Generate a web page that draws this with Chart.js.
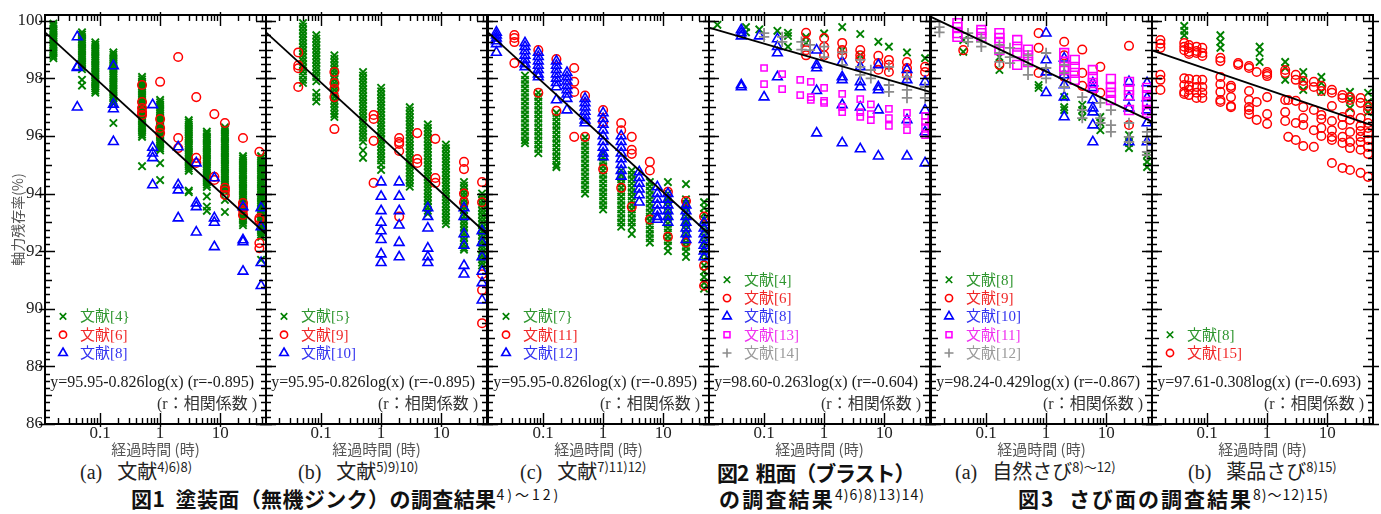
<!DOCTYPE html>
<html><head><meta charset="utf-8">
<script src="https://cdn.jsdelivr.net/npm/chart.js@4.4.1/dist/chart.umd.min.js"></script>
<style>
html,body{margin:0;padding:0;background:#fff;}
#wrap{position:relative;width:1381px;height:514px;overflow:hidden;background:#fff;}
#wrap canvas{position:absolute;top:0;}
.cap{position:absolute;white-space:pre;color:#222;font-family:"Liberation Serif","Noto Sans CJK JP",serif;font-size:20px;line-height:24px;}
.fig{font-family:"Noto Sans CJK JP",sans-serif;font-weight:700;font-size:21px;color:#111;}
.s{font-size:13px;vertical-align:7px;line-height:0;font-weight:400;font-family:"Noto Sans CJK JP",sans-serif;letter-spacing:0;}
.fig .s{font-size:14px;letter-spacing:1px;}
</style></head>
<body>
<div id="wrap">
<div class="cap" style="left:80px;top:460px">(a)   文献<span class="s">4)6)8)</span></div>
<div class="cap" style="left:298px;top:460px">(b)   文献<span class="s">5)9)10)</span></div>
<div class="cap" style="left:520px;top:460px">(c)   文献<span class="s">7)11)12)</span></div>
<div class="cap fig" style="left:131px;top:486px;letter-spacing:0.4px">図1  塗装面（無機ジンク）の調査結果<span class="s" style="letter-spacing:3px">4)～12)</span></div>
<div class="cap fig" style="left:717px;top:460px;letter-spacing:-1.1px">図2  粗面（ブラスト）</div>
<div class="cap fig" style="left:719px;top:486px;letter-spacing:2.2px">の調査結果<span class="s">4)6)8)13)14)</span></div>
<div class="cap" style="left:955px;top:460px">(a)   自然さび<span class="s">8)～12)</span></div>
<div class="cap" style="left:1188px;top:460px">(b)   薬品さび<span class="s">8)15)</span></div>
<div class="cap fig" style="left:1018px;top:486px;letter-spacing:2px">図3  さび面の調査結果<span class="s">8)～12)15)</span></div>
</div>
<script>
// ---------- axes ----------
const xTickValues = [0.1, 1, 10];
const xTickLabels = ['0.1', '1', '10'];
const yTickValues = [86, 88, 90, 92, 94, 96, 98, 100];
const yTickLabels = ['86', '88', '90', '92', '94', '96', '98', '100'];
const xMin = 0.0121, xMax = 58;
const yMin = 86, yMax = 100.2;
const xTitle = '経過時間 (時)';
const yTitle = '軸力残存率(%)';

// ---------- regression lines: y = a + b*ln(x) ----------
const fitA = [95.95, 95.95, 95.95, 98.60, 98.24, 97.61];
const fitB = [-0.826, -0.826, -0.826, -0.263, -0.429, -0.308];
const fitText = [
  'y=95.95-0.826log(x) (r=-0.895)',
  'y=95.95-0.826log(x) (r=-0.895)',
  'y=95.95-0.826log(x) (r=-0.895)',
  'y=98.60-0.263log(x) (r=-0.604)',
  'y=98.24-0.429log(x) (r=-0.867)',
  'y=97.61-0.308log(x) (r=-0.693)'
];
const rNote = '(r：相関係数 )';

// ---------- data: [time, [values...]] ----------
// Fig.1 (a)
const p1Ref4 = [
  [0.0167,[99.9,99.82,99.74,99.66,99.58,99.5,99.42,99.34,99.26,99.18,99.1,99.02,98.94,98.86,98.78,98.7]],
  [0.05,[99.6,99.52,99.44,99.36,99.28,99.2,99.12,99.04,98.96,98.88,98.8,98.72,98.64,98.56,98.48,98.4,98.32,97.95,97.75]],
  [0.0833,[99.25,99.17,99.09,99.01,98.93,98.85,98.77,98.69,98.61,98.53,98.45,98.37,98.29,98.21,98.13,98.05,97.97,97.89,97.81,97.73,97.65,97.57,97.5]],
  [0.1667,[98.9,98.82,98.74,98.66,98.58,98.5,98.42,98.34,98.26,98.18,98.1,98.02,97.94,97.86,97.78,97.7,97.62,97.54,97.46,97.38,97.3,97.22,97.14,96.45]],
  [0.5,[98.05,97.97,97.89,97.81,97.73,97.65,97.57,97.49,97.41,97.33,97.25,97.17,97.09,97.01,96.93,96.85,96.77,96.69,96.61,96.53,96.45,96.37,96.29,96.21,96.13,96.05,95.97,94.95]],
  [1,[97.25,97.17,97.09,97.01,96.93,96.85,96.77,96.69,96.61,96.53,96.45,96.37,96.29,96.21,96.13,96.05,95.97,95.89,95.81,95.73,95.65,95.57,95.5,95.06,94.47]],
  [3,[96.55,96.47,96.39,96.31,96.23,96.15,96.07,95.99,95.91,95.83,95.75,95.67,95.59,95.51,95.43,95.35,95.27,95.19,95.11,95.03,94.95,94.87,94.79,94.1,94.05]],
  [6,[96.15,96.07,95.99,95.91,95.83,95.75,95.67,95.59,95.51,95.43,95.35,95.27,95.19,95.11,95.03,94.95,94.87,94.79,94.71,94.63,94.55,94.47,94.39,94.31,94.23,93.9,93.55,93.4]],
  [12,[96.3,96.22,96.14,96.06,95.98,95.9,95.82,95.74,95.66,95.58,95.5,95.42,95.34,95.26,95.18,95.1,95.02,94.94,94.86,94.78,94.7,94.62,94.54,94.46,94.38,94.3,94.22,94.14,94.06,93.78,93.36]],
  [24,[95.3,95.22,95.14,95.06,94.98,94.9,94.82,94.74,94.66,94.58,94.5,94.42,94.34,94.26,94.18,94.1,94.02,93.94,93.86,93.78,93.7,93.62,93.54,93.46,93.38,93.3,93.22,93.14,93.06,92.98,92.9]],
  [48,[95.3,95.22,95.14,95.06,94.98,94.9,94.82,94.74,94.66,94.58,94.5,94.42,94.34,94.26,94.18,94.1,94.02,93.94,93.86,93.78,93.7,93.62,93.54,93.46,93.38,93.3,93.22,93.14,93.06,92.98,92.9,92.82,92.74,92.66,92.58,92.5,91.7]]
];
const p1Ref6 = [
  [0.5,[97.77,97.18,96.97,96.83,96.73]],
  [1,[97.88,96.59,96.28,96.1]],
  [2,[98.74,95.93,95.58]],
  [4,[97.35,95.24,95.06]],
  [8,[96.76,94.58,94.47]],
  [12,[96.45,94.2,94.1,93.95]],
  [24,[95.93,93.67,93.54,93.43,93.26]],
  [45,[95.45,93.15,93.08,92.28,92.1]]
];
const p1Ref8 = [
  [0.0417,[99.44,98.4,98.37,97.0]],
  [0.1667,[98.43,97.1,96.94,95.8]],
  [0.75,[97.08,95.6,95.4,95.24,94.3]],
  [2,[95.62,94.3,94.12,93.15]],
  [4,[95.06,93.67,93.54,92.66]],
  [8,[94.54,93.15,93.0,92.15]],
  [24,[93.54,92.39,92.32,91.3]],
  [48,[93.5,92.84,91.6,90.8]]
];
// Fig.1 (b)
const p2Ref5 = [
  [0.05,[99.92,99.8,99.68,99.56,99.44,99.32,99.2,99.08,98.96,98.84,98.72,98.6,98.48,98.36,98.24,98.1,97.95,97.84]],
  [0.0833,[99.5,99.38,99.26,99.14,99.02,98.9,98.78,98.66,98.54,98.42,98.3,98.18,98.05,97.9,97.5,97.35,97.2]],
  [0.1667,[98.8,98.68,98.56,98.44,98.32,98.2,98.08,97.96,97.84,97.72,97.6,97.48,97.36,97.24,97.12,97.0,96.88,96.76,96.66]],
  [0.5,[98.22,98.1,97.98,97.86,97.74,97.62,97.5,97.38,97.26,97.14,97.02,96.9,96.78,96.66,96.54,96.42,96.3,96.18,96.06,95.94,95.8,95.5,95.24]],
  [1,[97.67,97.55,97.43,97.31,97.19,97.07,96.95,96.83,96.71,96.59,96.47,96.35,96.23,96.11,95.99,95.87,95.75,95.63,95.51,95.39,95.27,95.15,95.0,94.82]],
  [3,[97.0,96.88,96.76,96.64,96.52,96.4,96.28,96.16,96.04,95.92,95.8,95.68,95.56,95.44,95.32,95.2,95.08,94.96,94.84,94.72,94.6,94.48,94.36,94.24]],
  [6,[96.4,96.28,96.16,96.04,95.92,95.8,95.68,95.56,95.44,95.32,95.2,95.08,94.96,94.84,94.72,94.6,94.48,94.36,94.24,94.12,94.0,93.88,93.76,93.64,93.52,93.4,93.3]],
  [12,[95.7,95.58,95.46,95.34,95.22,95.1,94.98,94.86,94.74,94.62,94.5,94.38,94.26,94.14,94.02,93.9,93.78,93.66,93.54,93.42,93.3,93.18,93.06,92.94]],
  [24,[94.4,94.28,94.16,94.04,93.92,93.8,93.68,93.56,93.44,93.32,93.2,93.08,92.96,92.84,92.72,92.6,92.48,92.36,92.24,92.12,92.05]],
  [48,[94.0,93.88,93.76,93.64,93.52,93.4,93.28,93.16,93.04,92.92,92.8,92.68,92.56,92.44,92.32,92.2,92.08,91.96,91.84,91.72,91.6,91.5]]
];
const p2Ref9 = [
  [0.0417,[98.9,98.45,98.35,97.7]],
  [0.1667,[98.22,97.84,97.63,97.35,96.24]],
  [0.75,[96.73,96.59,95.83,94.37]],
  [2,[95.93,95.79,95.72,95.48,93.2]],
  [4,[96.1,95.2,95.06]],
  [8,[95.9,94.54,94.37]],
  [24,[95.1,94.85,94.0,93.7]],
  [48,[94.4,93.7,91.2,90.65,89.5]]
];
const p2Ref10 = [
  [1,[94.4,93.9,93.4,93.0,92.7,92.4,91.9,91.6]],
  [2,[94.4,93.9,93.4,92.9,92.3,91.8]],
  [6,[93.5,93.2,92.8,92.1,91.8,91.6]],
  [24,[93.5,93.2,92.6,92.2,91.5,91.2]],
  [48,[92.7,92.3,91.8,91.3,90.9,90.3]]
];
// Fig.1 (c)
const p3Ref7 = [
  [0.05,[98.1,97.95,97.8,97.65,97.5,97.35,97.2,97.05,96.9,96.75,96.6,96.45,96.3,96.15,96.0,95.85,95.75]],
  [0.0833,[97.5,97.35,97.2,97.05,96.9,96.75,96.6,96.45,96.3,96.15,96.0,95.85,95.7,95.55,95.4]],
  [0.1667,[96.8,96.65,96.5,96.35,96.2,96.05,95.9,95.75,95.6,95.45,95.3,95.15,95.0,94.92]],
  [0.5,[95.95,95.8,95.65,95.5,95.35,95.2,95.05,94.9,94.75,94.6,94.45,94.3,94.15,94.0]],
  [1,[95.4,95.25,95.1,94.95,94.8,94.65,94.5,94.35,94.2,94.05,93.9,93.75,93.6,93.45]],
  [2,[94.8,94.65,94.5,94.35,94.2,94.05,93.9,93.75,93.6,93.45,93.3,93.15,93.0,92.85]],
  [3,[94.8,94.65,94.5,94.35,94.2,94.05,93.9,93.75,93.6,93.45,93.3,93.15,93.0,92.85,92.6]],
  [6,[94.4,94.25,94.1,93.95,93.8,93.65,93.5,93.35,93.2,93.05,92.9,92.75,92.6,92.45,92.3]],
  [12,[94.4,94.0,93.85,93.7,93.55,93.4,93.25,93.1,92.95,92.8,92.65,92.5,92.35,92.2,92.0]],
  [24,[94.33,93.8,93.65,93.5,93.35,93.2,93.05,92.9,92.75,92.6,92.45,92.3,92.15,92.0,91.8]],
  [48,[93.7,93.5,93.3,93.1,92.9,92.7,92.5,92.3,92.1,91.9,91.7,91.5,91.3,91.1,90.9,90.7]]
];
const p3Ref11 = [
  [0.0333,[99.5,99.4,99.26,98.53]],
  [0.0833,[98.98,97.5]],
  [0.1667,[98.67,96.87]],
  [0.33,[98.36,97.88,97.53,95.97]],
  [0.5,[97.4,95.97]],
  [1,[96.9,96.49,94.85]],
  [2,[96.45,96.2,94.2]],
  [3,[95.97,95.52,95.38,93.54]],
  [6,[95.1,94.8,93.1]],
  [12,[94.06,92.5]],
  [24,[93.74,92.3]],
  [48,[93.2,91.5,90.8]]
];
const p3Ref12 = [
  [0.0167,[99.6,99.5,99.4,99.3,99.2,98.9]],
  [0.05,[99.23,99.1,98.95,98.8,98.65,98.5,98.4]],
  [0.0833,[98.9,98.75,98.6,98.45,98.3,98.15,98.05]],
  [0.1667,[98.6,98.45,98.3,98.15,98.0,97.85,97.7,97.25]],
  [0.25,[98.2,98.05,97.9,97.75,97.6,97.45,97.3,96.9]],
  [0.5,[97.3,97.15,97.0,96.85,96.7,96.55,96.45]],
  [1,[96.8,96.6,96.4,96.2,96.0,95.8,95.6,95.4,95.27]],
  [2,[96.0,95.8,95.6,95.4,95.2,95.0,94.8,94.6]],
  [4,[94.75,94.55,94.35,94.15,93.95,93.7]],
  [8,[94.23,94.0,93.8,93.6,93.4,93.2,93.1]],
  [12,[94.0,93.8,93.6,93.4,93.2,93.0]],
  [24,[93.6,93.4,93.2,93.0,92.8,92.6,92.4]],
  [48,[93.0,92.8,92.6,92.4,92.2,92.0,91.8]]
];
// Fig.2
const p4Ref4 = [
  [0.0167,[99.86]],[0.05,[99.78,99.6]],[0.0833,[99.7]],[0.1667,[99.65]],[0.25,[99.58,99.47,99.1]],
  [0.5,[99.44,99.23]],[1,[99.56]],[2,[99.78,98.98]],[4,[99.54,98.8]],[8,[99.27]],[12,[99.1]],[24,[98.9]],[48,[98.7]]
];
const p4Ref6 = [
  [0.5,[99.58,99.27,98.98,98.8]],[1,[99.4,99.1,98.8]],[2,[99.23,98.98,98.8]],[4,[98.98,98.8,98.67]],
  [8,[98.78,98.53,98.3]],[12,[98.64,98.47,98.22]],[24,[98.57,98.36,98.12]],[48,[98.4,98.22]]
];
const p4Ref8 = [
  [0.0417,[99.68,99.58,99.47,97.77,97.7]],[0.0833,[99.47]],[0.1,[97.35]],[0.1667,[99.37,99.1,98.88,98.05]],
  [0.75,[98.98,98.47,98.36,97.57,96.1]],[2,[98.57,98.05,97.95,97.08,95.76]],[4,[98.4,97.88,97.7,97.0,95.55]],
  [8,[98.47,97.7,97.6,96.9,95.3]],[24,[98.3,97.95,96.56,95.3]],[48,[97.88,96.9,96.14,95.06]]
];
const p4Ref13 = [
  [0.1,[98.36,97.8]],[0.2,[98.15,97.63]],[0.4,[97.95,97.42]],[0.6,[97.88,97.35,97.25]],[1,[97.67,97.22,97.15]],
  [2,[97.46,97.0,96.83]],[4,[97.28,96.83,96.66]],[6,[97.1,96.76,96.55]],[12,[96.94,96.62,96.35]],
  [24,[96.8,96.49,96.2]],[48,[96.7,96.49,96.31,96.03]]
];
const p4Ref14 = [
  [0.1,[99.57,99.44]],[0.2,[99.44,99.27]],[0.42,[99.27,99.0]],[0.58,[99.16,98.98]],[1,[99.1,98.74]],
  [2,[98.9,98.47]],[4,[98.64,98.4,98.12]],[6,[98.29,98.0]],[12,[98.4,97.77,97.53]],[24,[98.05,97.6,97.32]],[48,[97.7,97.32]]
];
// Fig.3 (a)
const p5Ref8 = [
  [0.0417,[99.33,98.92]],[0.1667,[98.74,98.29]],[0.75,[97.77,97.67]],[2,[97.35,97.0,96.9]],
  [4,[97.08,96.9,96.66]],[8,[96.66,96.45,96.2]],[24,[96.03,95.76,95.58]],[48,[95.34,95.1,94.92]]
];
const p5Ref9 = [
  [0.0417,[98.98]],[0.1667,[98.47]],[0.75,[99.57,99.06,98.19]],[2,[99.27,98.8,98.05]],
  [4,[99.0,98.19,97.74]],[8,[98.4,97.5]],[24,[99.13,96.38]]
];
const p5Ref10 = [
  [1,[99.57,98.64,98.22,97.5]],[2,[98.7,98.12,97.77,97.35,96.66]],[6,[97.84,97.67,97.25,96.97,96.83,96.38,95.79]],
  [24,[97.88,97.35,96.97,95.79]],[48,[97.84,97.32,96.9,96.45,95.79]]
];
const p5Ref11 = [
  [0.0333,[99.92,99.78,99.57,99.44]],[0.0833,[99.68,99.57,99.44]],[0.1667,[99.57,99.4,99.23,98.98]],
  [0.33,[99.33,99.1,98.88,98.47]],[0.5,[99.0,98.8,98.57]],[2,[98.88,98.57,98.4,98.29]],[3,[98.64,98.4,98.19,97.95]],
  [6,[98.29,98.05,97.84,97.67]],[12,[97.98,97.7,97.5,97.25]],[24,[97.88,97.6,97.42,96.9]],[48,[97.67,97.42,97.18,96.9,96.8]]
];
const p5Ref12 = [
  [0.0167,[99.78,99.6]],[0.05,[99.57,99.4,99.27]],[0.0833,[99.4,99.27,99.1]],[0.1667,[99.16,98.88,98.57]],
  [0.25,[99.06,98.74,98.53]],[0.5,[98.8,98.47,98.12]],[1,[98.88,98.36,98.0]],[2,[98.47,98.19,97.7]],
  [4,[97.35,96.9,96.62]],[8,[97.15,96.62,96.45]],[12,[96.9,96.38,96.14]],[24,[96.45,95.97,95.79]],[48,[96.14,95.79,95.45,95.34]]
];
// Fig.3 (b)
const p6Ref8 = [
  [0.0417,[99.82,99.65,99.5]],[0.1667,[99.5,99.27,99.06]],[0.75,[99.1,98.88,98.57]],[2,[98.57,98.36,97.95]],
  [4,[98.22,97.95,97.6]],[8,[98.05,97.84,97.53]],[24,[97.53,97.25,96.97]],[48,[97.5,97.18,96.83]]
];
const p6Ref15 = [
  [0.0167,[99.33,99.2,99.06,98.12,97.95,97.6]],
  [0.0417,[99.23,99.1,98.98,98.0,97.77,97.53,97.46]],
  [0.05,[99.16,99.06,98.92,98.85,97.98,97.74,97.6,97.42]],
  [0.0667,[99.1,98.95,98.88,97.95,97.7,97.5,97.32]],
  [0.0833,[99.06,98.88,98.78,97.95,97.7,97.5,97.32]],
  [0.1667,[98.71,98.6,98.05,97.8,97.53,97.25,97.18]],
  [0.25,[97.74,97.67,97.35,97.04,97.0]],
  [0.33,[98.53,98.47]],
  [0.5,[98.43,98.36,97.56,97.25,97.0,96.9,96.76]],
  [0.67,[98.22,97.18,96.56]],
  [1,[98.22,98.15,98.08,97.35,96.76,96.42]],
  [2,[98.29,98.19,97.25,96.83,96.52]],
  [2.25,[97.25,95.97]],
  [3,[98.12,97.95,97.22,96.45,95.86]],
  [4,[97.91,97.74,97.0,96.62,96.38,95.65]],
  [6,[97.88,97.7,96.9,96.2,95.62]],
  [8,[97.74,97.56,96.73,96.59,96.28,96.0]],
  [12,[97.6,97.5,97.04,96.52,96.2,95.97,95.86,95.06]],
  [18,[97.42,97.32,96.66,96.38,95.97,95.76,94.89]],
  [24,[97.35,97.25,96.8,96.56,96.14,95.79,95.58,94.82]],
  [36,[97.32,97.15,96.62,96.35,96.17,95.97,95.79,95.52,94.72]],
  [48,[97.04,96.9,96.45,96.28,96.1,95.86,95.62,95.38,94.58]]
];

// ---------- legend labels ----------
const legend1 = ['文献[4}', '文献[6]', '文献[8]'];
const legend2 = ['文献[5}', '文献[9]', '文献[10]'];
const legend3 = ['文献[7}', '文献[11]', '文献[12]'];
const legend4 = ['文献[4]', '文献[6]', '文献[8]', '文献[13]', '文献[14]'];
const legend5 = ['文献[8]', '文献[9]', '文献[10]', '文献[11]', '文献[12]'];
const legend6 = ['文献[8]', '文献[15]'];

// ---------- styles ----------
const STYLE = {
  cross: {pointStyle: 'crossRot', color: '#008000', r: 5.2, lr: 4.6, bw: 1.9},
  circle: {pointStyle: 'circle', color: '#ff0000', r: 4.3, lr: 3.6, bw: 1.5},
  tri: {pointStyle: 'triangle', color: '#0000ff', r: 5.6, lr: 5, bw: 1.6},
  sq: {pointStyle: 'rect', color: '#ff00ff', r: 4.4, lr: 4.2, bw: 1.5},
  sqBig: {pointStyle: 'rect', color: '#ff00ff', r: 6.2, lr: 4.2, bw: 1.6},
  plus: {pointStyle: 'cross', color: '#8c8c8c', r: 5.2, lr: 4.5, bw: 1.8}
};
const TEXTCOL = {cross: '#2f962f', circle: '#f02828', tri: '#3434f0', sq: '#f030f0', sqBig: '#f030f0', plus: '#9a9a9a'};

const panelLefts = [45, 266, 488, 709, 931, 1152];
const PW = 221, CH = 458, PLOT_TOP = 15, PLOT_BOTTOM = 424;

const panels = [
  {series: [[p1Ref4,'cross'],[p1Ref6,'circle'],[p1Ref8,'tri']], legend: legend1},
  {series: [[p2Ref5,'cross'],[p2Ref9,'circle'],[p2Ref10,'tri']], legend: legend2},
  {series: [[p3Ref7,'cross'],[p3Ref11,'circle'],[p3Ref12,'tri']], legend: legend3},
  {series: [[p4Ref4,'cross'],[p4Ref6,'circle'],[p4Ref8,'tri'],[p4Ref13,'sq'],[p4Ref14,'plus']], legend: legend4},
  {series: [[p5Ref8,'cross'],[p5Ref9,'circle'],[p5Ref10,'tri'],[p5Ref11,'sqBig'],[p5Ref12,'plus']], legend: legend5},
  {series: [[p6Ref8,'cross'],[p6Ref15,'circle']], legend: legend6}
];

const toPoints = groups => groups.flatMap(([x, ys]) => ys.map(y => ({x: x, y: y})));

function marker(ctx, style, cx, cy, r) {
  ctx.beginPath();
  if (style === 'crossRot') {
    const d = r * Math.SQRT1_2;
    ctx.moveTo(cx - d, cy - d); ctx.lineTo(cx + d, cy + d);
    ctx.moveTo(cx - d, cy + d); ctx.lineTo(cx + d, cy - d);
  } else if (style === 'cross') {
    ctx.moveTo(cx - r, cy); ctx.lineTo(cx + r, cy);
    ctx.moveTo(cx, cy - r); ctx.lineTo(cx, cy + r);
  } else if (style === 'circle') {
    ctx.arc(cx, cy, r, 0, Math.PI * 2);
  } else if (style === 'triangle') {
    for (let k = 0; k < 3; k++) {
      const a = k * 2 * Math.PI / 3;
      const px = cx + Math.sin(a) * r, py = cy - Math.cos(a) * r;
      if (k === 0) ctx.moveTo(px, py); else ctx.lineTo(px, py);
    }
    ctx.closePath();
  } else if (style === 'rect') {
    const d = r * Math.SQRT1_2;
    ctx.rect(cx - d, cy - d, 2 * d, 2 * d);
  }
  ctx.stroke();
}

const decor = {
  id: 'decor',
  afterDatasetsDraw(chart, args, opts) {
    const ctx = chart.ctx, a = chart.chartArea, x = chart.scales.x, y = chart.scales.y;
    ctx.save();
    ctx.strokeStyle = '#000';
    ctx.lineWidth = 1.4;
    ctx.beginPath();
    for (let k = 0; k <= 56; k++) {
      const v = yMin + k * 0.25;
      const py = Math.round(y.getPixelForValue(v)) + 0.5;
      let inL, outL;
      if (k % 8 === 0) { inL = 10; outL = 6; } else if (k % 4 === 0) { inL = 7; outL = 0; } else { inL = 5; outL = 0; }
      ctx.moveTo(a.left - outL, py); ctx.lineTo(a.left + inL, py);
      ctx.moveTo(a.right + outL, py); ctx.lineTo(a.right - inL, py);
    }
    for (let e = -2; e <= 1; e++) {
      for (let m = 1; m <= 9; m++) {
        const v = m * Math.pow(10, e);
        if (v < xMin || v > xMax) continue;
        const px = Math.round(x.getPixelForValue(v)) + 0.5;
        const len = m === 1 ? 11 : 6, out = m === 1 ? 3 : 0;
        ctx.moveTo(px, a.bottom + out); ctx.lineTo(px, a.bottom - len);
        ctx.moveTo(px, a.top - out); ctx.lineTo(px, a.top + len);
      }
    }
    ctx.stroke();
    ctx.lineWidth = 2;
    ctx.strokeRect(a.left, a.top, a.right - a.left, a.bottom - a.top);

    // legend
    const items = opts.items || [];
    const n = items.length;
    ctx.textAlign = 'left';
    ctx.textBaseline = 'middle';
    ctx.font = '15px "Liberation Serif", "Noto Sans CJK JP", serif';
    for (let k = 0; k < n; k++) {
      const it = items[k];
      const st = STYLE[it.style];
      const yy = 353 - (n - 1 - k) * 18.3;
      ctx.strokeStyle = st.color;
      ctx.lineWidth = 1.6;
      marker(ctx, st.pointStyle, a.left + 18, yy, st.lr);
      ctx.fillStyle = TEXTCOL[it.style];
      ctx.fillText(it.text, a.left + 35, yy + 1);
    }
    // equation
    ctx.fillStyle = '#1a1a1a';
    ctx.textAlign = 'right';
    ctx.font = '16px "Liberation Serif", "Noto Sans CJK JP", serif';
    ctx.fillText(opts.eq, a.left + 209, 383);
    ctx.fillStyle = '#333';
    ctx.fillText(rNote, a.left + 212, 405);
    ctx.restore();
  }
};

const wrap = document.getElementById('wrap');
panels.forEach((p, i) => {
  const first = i === 0;
  const L = panelLefts[i];
  const padL = first ? 0 : 14, padR = 14;
  const cssLeft = first ? 0 : L - 14;
  const W = (first ? 45 : 14) + PW + padR;
  const cv = document.createElement('canvas');
  cv.width = W; cv.height = CH;
  cv.style.left = cssLeft + 'px';
  cv.style.width = W + 'px'; cv.style.height = CH + 'px';
  wrap.appendChild(cv);

  const datasets = [];
  datasets.push({
    type: 'line',
    label: 'fit',
    data: [{x: xMin, y: fitA[i] + fitB[i] * Math.log(xMin)}, {x: xMax, y: fitA[i] + fitB[i] * Math.log(xMax)}],
    borderColor: '#000', borderWidth: 1.8, pointRadius: 0, fill: false, order: 0, clip: false
  });
  p.series.forEach(([groups, sk], k) => {
    const st = STYLE[sk];
    datasets.push({
      type: 'scatter',
      label: p.legend[k],
      data: toPoints(groups),
      pointStyle: st.pointStyle,
      pointRadius: st.r,
      pointBorderWidth: st.bw,
      pointBorderColor: st.color,
      pointBackgroundColor: 'rgba(0,0,0,0)',
      borderColor: st.color,
      backgroundColor: 'rgba(0,0,0,0)',
      order: 10 - k,
      clip: false
    });
  });

  new Chart(cv, {
    type: 'scatter',
    data: {datasets},
    plugins: [decor],
    options: {
      responsive: false, animation: false, devicePixelRatio: 1,
      layout: {padding: {left: padL, right: padR, top: PLOT_TOP, bottom: 0}},
      plugins: {
        legend: {display: false}, tooltip: {enabled: false},
        decor: {eq: fitText[i], items: p.legend.map((t, k) => ({text: t, style: p.series[k][1]}))}
      },
      scales: {
        x: {
          type: 'logarithmic', position: 'bottom', min: xMin, max: xMax, bounds: 'data',
          afterBuildTicks: s => { s.ticks = xTickValues.map(v => ({value: v})); },
          afterFit: s => { s.height = CH - PLOT_BOTTOM; },
          grid: {display: false, drawTicks: false}, border: {display: false},
          ticks: {autoSkip: false, maxRotation: 0, minRotation: 0, padding: -1, color: '#222',
                  font: {family: '"Liberation Serif", serif', size: 17},
                  callback: (v, idx) => xTickLabels[idx]},
          title: {display: true, text: xTitle, color: '#555', padding: 0,
                  font: {family: '"Noto Sans CJK JP", sans-serif', size: 15}}
        },
        y: {
          type: 'linear', display: first, position: 'left', min: yMin, max: yMax, bounds: 'data',
          afterBuildTicks: s => { s.ticks = yTickValues.map(v => ({value: v})); },
          afterFit: s => { s.width = first ? 45 : 0; },
          grid: {display: false, drawTicks: false}, border: {display: false},
          ticks: {autoSkip: false, padding: 2, color: '#222',
                  font: {family: '"Liberation Serif", serif', size: 17},
                  callback: (v, idx) => yTickLabels[idx]},
          title: {display: true, text: yTitle, color: '#555', padding: {top: 9, bottom: 0},
                  font: {family: '"Noto Sans CJK JP", sans-serif', size: 14}}
        }
      }
    }
  });
});
</script>
</body></html>
